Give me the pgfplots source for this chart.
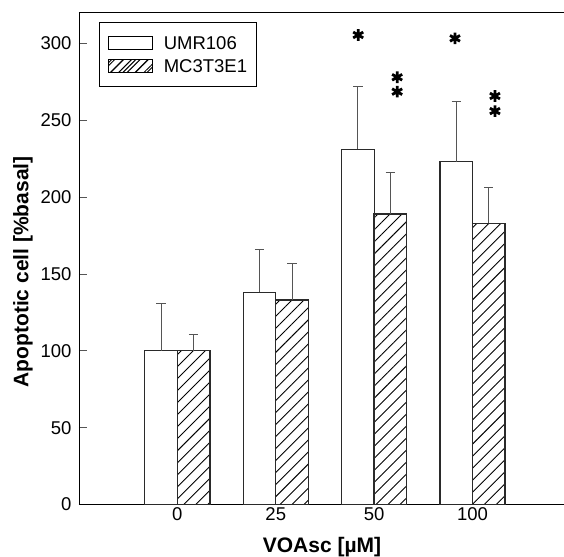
\documentclass[border=0pt]{standalone}
\usepackage{pgfplots}
\pgfplotsset{compat=1.18}
\usepackage{fontspec}
\setmainfont{Liberation Sans}
\usetikzlibrary{patterns.meta}
\definecolor{barline}{HTML}{2A2A2A}
\definecolor{errcol}{HTML}{555555}
\newcommand{\lgfont}{\fontsize{18.5}{20}\selectfont}
\pgfplotstableread{
x     y    e
-0.1655 100 31
0.8345  138 28
1.8345  231 41
2.8345  223 39.5
}\umr
\pgfplotstableread{
x     y    e
0.1655  100 10.7
1.1655  133 24
2.1655  189 27
3.1655  183 23
}\mc
\begin{document}
\begin{tikzpicture}
\useasboundingbox (-79pt,-51.5pt) rectangle (485pt,504.5pt);
\begin{axis}[
  scale only axis,
  width=485pt, height=491.8pt,
  xmin=-1, xmax=3.93,
  ymin=0, ymax=320,
  axis x line=box,
  axis y line*=left,
  axis line style={black, line width=0.9pt},
  xtick={0,1,2,3},
  xticklabels={0,25,50,100},
  major x tick style={draw=none},
  ytick={0,50,100,150,200,250,300},
  tick align=inside,
  major tick length=8pt,
  every tick/.style={errcol, line width=0.8pt},
  tick label style={font=\lgfont},
  /pgf/number format/assume math mode=true,
  xticklabel style={yshift=0pt},
  yticklabel style={xshift=-4pt},
  xlabel={VOAsc [µM]},
  ylabel={Apoptotic cell [\%basal]},
  label style={font=\fontsize{21}{24}\selectfont\bfseries},
  xlabel style={at={(axis description cs:0.501,-0.0864)}, anchor=center},
  ylabel style={at={(axis description cs:-0.1155,0.473)}, anchor=center},
  clip=false,
  legend style={
    at={(axis description cs:0.0412,0.9817)}, anchor=north west,
    draw=black, line width=0.8pt,
    font=\lgfont,
    nodes={font=\lgfont, inner sep=0pt, text height=13.2pt, text depth=0pt},
    inner xsep=9pt, inner ysep=14pt,
    row sep=8.8pt,
    legend cell align=left,
  },
]
\addplot[ybar, bar width=32.6pt, bar shift=0pt,
  draw=barline, line width=1.3pt, fill=white,
  error bars/.cd, y dir=plus, y explicit,
  error bar style={errcol, line width=0.9pt},
  error mark options={rotate=90, mark size=4.7pt, errcol, line width=0.9pt}]
  [legend image code/.code={\draw[black, line width=0.8pt, fill=white] (0pt,-6.5pt) rectangle (44pt,6.5pt);
    \pgfpathrectangle{\pgfpoint{44pt}{0pt}}{\pgfpoint{11pt}{0.1pt}}\pgfusepath{use as bounding box}}]
  table[x=x, y=y, y error=e] {\umr};
\addlegendentry{UMR106}
\addplot[ybar, bar width=32.6pt, bar shift=0pt,
  draw=barline, line width=1.3pt, fill=white,
  postaction={pattern={Lines[angle=45, distance=8.5pt, line width=0.9pt]}, pattern color=black},
  error bars/.cd, y dir=plus, y explicit,
  error bar style={errcol, line width=0.9pt},
  error mark options={rotate=90, mark size=4.7pt, errcol, line width=0.9pt}]
  [legend image code/.code={\draw[black, line width=0.8pt, pattern={Lines[angle=45, distance=6pt, line width=0.9pt]}] (0pt,-6.5pt) rectangle (44pt,6.5pt);
    \pgfpathrectangle{\pgfpoint{44pt}{0pt}}{\pgfpoint{11pt}{0.1pt}}\pgfusepath{use as bounding box}}]
  table[x=x, y=y, y error=e] {\mc};
\addlegendentry{MC3T3E1}
\addplot[only marks, mark=asterisk, mark size=5.8pt, black, line width=2.8pt, forget plot]
  coordinates {
  (1.838,305.5)
  (2.234,278) (2.234,268.6)
  (2.822,303.3)
  (3.228,265.8) (3.228,256)
};
\end{axis}
\end{tikzpicture}
\end{document}
